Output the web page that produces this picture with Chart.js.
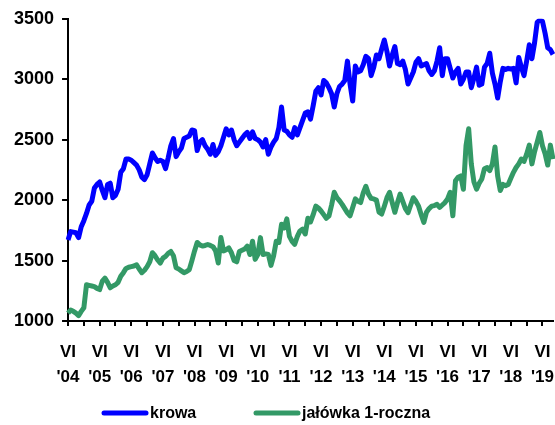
<!DOCTYPE html>
<html>
<head>
<meta charset="utf-8">
<script src="https://cdn.jsdelivr.net/npm/chart.js@4/dist/chart.umd.min.js"></script>
<style>
  html, body { margin: 0; padding: 0; background: #fff; }
  #wrap { width: 555px; height: 425px; }
</style>
</head>
<body>
<div id="wrap"><canvas id="lineChartCeny"></canvas></div>
<script>
// monthly prices, June 2004 onwards
var startYear = 2004, startMonth = 6;

var krowa = [
    1670, 1740, 1735, 1730, 1690, 1780, 1830, 1890, 1960, 1990,
    2100, 2130, 2150, 2080, 2020, 2130, 2140, 2020, 2040, 2090,
    2230, 2260, 2340, 2340, 2330, 2310, 2290, 2250, 2190, 2170,
    2210, 2300, 2390, 2350, 2320, 2330, 2320, 2260, 2350, 2450,
    2510, 2360, 2400, 2430, 2510, 2520, 2530, 2580, 2575, 2410,
    2480, 2500, 2450, 2420, 2380, 2460, 2370, 2400, 2450, 2520,
    2590, 2540, 2580, 2500, 2450, 2480, 2510, 2540, 2560, 2510,
    2565, 2510, 2500, 2480, 2440, 2500, 2380, 2440, 2480, 2510,
    2600, 2770, 2580, 2570, 2540, 2520, 2600, 2540, 2600, 2660,
    2720, 2730, 2670, 2780, 2900, 2930, 2870, 2990, 2970, 2930,
    2880, 2770, 2880, 2940, 2960, 2990, 3150, 2960, 2820, 3110,
    3060, 3070, 3120, 3190, 3170, 3030, 3100, 3200, 3170, 3250,
    3325, 3230, 3110, 3200, 3270, 3130, 3120, 3150, 3080, 2960,
    3010, 3060, 3140, 3170, 3110, 3120, 3130, 3070, 3040, 3070,
    3150, 3260, 3030, 3170, 3170, 3090, 3010, 3060, 3090, 2960,
    3000, 3060, 3060, 2930, 3010, 3100, 2950, 2960, 3100, 3130,
    3215, 3050, 2960, 2845, 2980, 3090, 3080, 3090, 3085, 3090,
    2970, 3180, 3100, 3030, 3150, 3285, 3170, 3300, 3470, 3490,
    3480, 3380, 3260, 3245, 3205
];

var jalowka = [
    1065, 1090, 1080, 1065, 1045, 1080, 1110, 1300, 1295, 1290,
    1285, 1270, 1260, 1330, 1355, 1320, 1275, 1290, 1300, 1320,
    1370, 1400, 1435, 1445, 1450, 1455, 1465, 1430, 1400, 1420,
    1450, 1490, 1565, 1540, 1505, 1480, 1520, 1535, 1560, 1575,
    1540, 1440, 1430, 1415, 1400, 1410, 1425, 1500, 1580, 1650,
    1630, 1620, 1625, 1633, 1625, 1615, 1580, 1480, 1690, 1580,
    1590, 1605, 1565, 1500, 1490, 1575, 1585, 1595, 1620, 1550,
    1660, 1510, 1550, 1690, 1550, 1555, 1550, 1460, 1540, 1660,
    1650, 1800, 1770, 1845, 1700, 1660, 1635, 1700, 1745, 1760,
    1720, 1850, 1820, 1880, 1950, 1935, 1910, 1880, 1850, 1870,
    1960, 2065, 2020, 1995, 1965, 1930, 1895, 1870, 1940, 2010,
    1990, 1980, 2060, 2115, 2050, 2015, 2010, 2000, 1900, 1885,
    1950, 2020, 2065, 1980, 1900, 1980, 2050, 1990, 1930, 1897,
    1960, 2020, 1990, 1950, 1880, 1815, 1900, 1930, 1950, 1955,
    1965, 1940, 1960, 1980, 2010, 2065, 1870, 2160, 2190, 2200,
    2090, 2450, 2590, 2300, 2150, 2090, 2140, 2175, 2260, 2270,
    2245, 2300, 2440, 2200, 2080, 2130, 2120, 2130, 2180, 2230,
    2270, 2300, 2340, 2320, 2380, 2455, 2300, 2400, 2480, 2560,
    2450, 2385, 2290, 2455, 2340
];

var yearLabels = ["'04", "'05", "'06", "'07", "'08", "'09", "'10", "'11",
                  "'12", "'13", "'14", "'15", "'16", "'17", "'18", "'19"];
var monthMark = 'VI';

var yTicks = [1000, 1500, 2000, 2500, 3000, 3500];

// one category per month
var months = [];
for (var i = 0; i < krowa.length; i++) {
    var m = startMonth - 1 + i;
    months.push((startYear + Math.floor(m / 12)) + '-' + String(m % 12 + 1).padStart(2, '0'));
}

var axisFont = { family: "'Liberation Sans', Arial, sans-serif", size: 17, weight: 'bold', lineHeight: 1.47 };

// legend drawn as line swatch + bold text under the axis labels
var bottomLegend = {
    id: 'bottomLegend',
    afterDraw: function (chart) {
        var ctx = chart.ctx;
        var y = 413;
        var startX = [104, 256];
        ctx.save();
        ctx.font = "bold 16px 'Liberation Sans', Arial, sans-serif";
        ctx.textBaseline = 'middle';
        ctx.lineCap = 'round';
        chart.data.datasets.forEach(function (ds, k) {
            ctx.strokeStyle = ds.borderColor;
            ctx.lineWidth = 5;
            ctx.beginPath();
            ctx.moveTo(startX[k], y);
            ctx.lineTo(startX[k] + 42, y);
            ctx.stroke();
            ctx.fillStyle = '#000';
            ctx.fillText(ds.label, startX[k] + 46, y + 1);
        });
        ctx.restore();
    }
};

var ctx = document.getElementById('lineChartCeny').getContext('2d');
var lineChartCeny = new Chart(ctx, {
    type: 'line',
    data: {
        labels: months,
        datasets: [{
            label: 'krowa',
            data: krowa,
            borderColor: '#0000ff',
            backgroundColor: '#0000ff',
            borderWidth: 5,
            pointRadius: 0,
            tension: 0,
            borderJoinStyle: 'round'
        }, {
            label: 'jałówka 1-roczna',
            data: jalowka,
            borderColor: '#339966',
            backgroundColor: '#339966',
            borderWidth: 5,
            pointRadius: 0,
            tension: 0,
            borderJoinStyle: 'round'
        }]
    },
    options: {
        responsive: true,
        maintainAspectRatio: false,
        animation: false,
        layout: {
            padding: { left: 6, right: 2, top: 16, bottom: 21 }
        },
        scales: {
            x: {
                offset: false,
                // labels sit low under the axis, no extra room needed at the right end
                afterFit: function (axis) { axis.paddingRight = 0; },
                grid: {
                    drawOnChartArea: false,
                    tickLength: 5,
                    lineWidth: 2,
                    color: function (c) { return c.index % 6 === 0 ? '#000' : 'rgba(0,0,0,0)'; }
                },
                border: { color: '#000', width: 2 },
                ticks: {
                    autoSkip: false,
                    maxRotation: 0,
                    minRotation: 0,
                    padding: 14,
                    color: '#000',
                    font: axisFont,
                    callback: function (value, index) {
                        if (index % 12 === 0) return [monthMark, yearLabels[index / 12]];
                        return '';
                    }
                }
            },
            y: {
                min: 1000,
                max: 3500,
                afterBuildTicks: function (axis) {
                    axis.ticks = yTicks.map(function (v) { return { value: v }; });
                },
                grid: {
                    drawOnChartArea: false,
                    tickLength: 6,
                    lineWidth: 2,
                    color: '#000'
                },
                border: { color: '#000', width: 2 },
                ticks: {
                    padding: 8,
                    color: '#000',
                    font: { family: "'Liberation Sans', Arial, sans-serif", size: 18, weight: 'bold' },
                    callback: function (value) { return String(value); }
                }
            }
        },
        plugins: {
            legend: { display: false },
            tooltip: { enabled: false }
        }
    },
    plugins: [bottomLegend]
});
</script>
</body>
</html>
